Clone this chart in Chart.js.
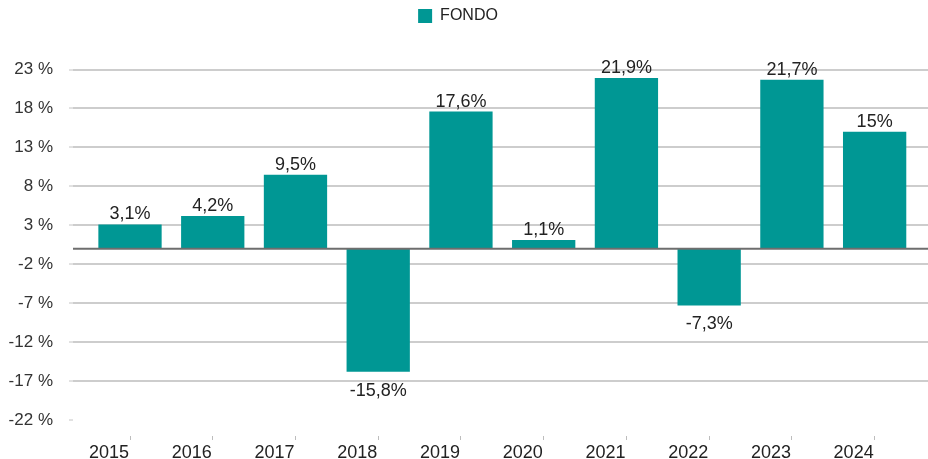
<!DOCTYPE html>
<html><head><meta charset="utf-8">
<script src="https://cdn.jsdelivr.net/npm/chart.js@4/dist/chart.umd.min.js"></script>
<style>html,body{margin:0;padding:0;background:#fff}#wrap{width:928px;height:459px;position:relative}</style>
</head><body><div id="wrap"><canvas id="c"></canvas></div>
<script>
const categories = ['2015','2016','2017','2018','2019','2020','2021','2022','2023','2024'];
const fondo = [3.1, 4.2, 9.5, -15.8, 17.6, 1.1, 21.9, -7.3, 21.7, 15];
const yTickValues = [-22, -17, -12, -7, -2, 3, 8, 13, 18, 23];
const seriesName = 'FONDO';

const FONT = "'Liberation Sans', Arial, sans-serif";
const TEAL = '#009794';
const GRID = '#cdcdcd';

const helperPlugin = {
  id: 'helper',
  beforeLayout(chart) {
    const lg = chart.legend;
    if (lg && !lg._patched) {
      const orig = lg.fit;
      lg.fit = function () {
        orig.call(this);
        this.height = 69.5;
        if (this.lineWidths) this.lineWidths[0] += 12;
      };
      lg._patched = true;
    }
  },
  afterDatasetsDraw(chart) {
    const ctx = chart.ctx;
    const ys = chart.scales.y;
    const area = chart.chartArea;
    const y0 = ys.getPixelForValue(0);
    ctx.save();
    ctx.strokeStyle = '#6e6e6e';
    ctx.lineWidth = 2;
    ctx.beginPath();
    ctx.moveTo(area.left, y0);
    ctx.lineTo(area.right, y0);
    ctx.stroke();
    const meta = chart.getDatasetMeta(0);
    ctx.font = '18px ' + FONT;
    ctx.fillStyle = '#222';
    ctx.textAlign = 'center';
    meta.data.forEach((el, i) => {
      const v = fondo[i];
      const txt = String(v).replace('.', ',') + '%';
      if (v >= 0) {
        ctx.textBaseline = 'bottom';
        ctx.fillText(txt, el.x, el.y - 1);
      } else {
        ctx.textBaseline = 'top';
        ctx.fillText(txt, el.x, el.y + 10);
      }
    });
    ctx.restore();
  }
};

new Chart(document.getElementById('c'), {
  type: 'bar',
  data: {
    datasets: [{
      label: seriesName,
      data: fondo.map((v, i) => ({ x: i, y: v })),
      backgroundColor: TEAL,
      borderWidth: 0,
      barPercentage: 0.765,
      categoryPercentage: 1
    }]
  },
  options: {
    responsive: true,
    maintainAspectRatio: false,
    animation: false,
    layout: { padding: 0 },
    plugins: {
      legend: {
        position: 'top',
        labels: {
          boxWidth: 14, boxHeight: 14, padding: 8,
          color: '#222',
          font: { family: FONT, size: 16 }
        }
      },
      tooltip: { enabled: false }
    },
    scales: {
      x: {
        type: 'linear',
        offset: false,
        min: -0.689,
        max: 9.645,
        afterBuildTicks: s => { s.ticks = categories.map((_, i) => ({ value: i })); },
        afterFit: s => { s.height = 39; },
        ticks: {
          autoSkip: false,
          maxRotation: 0,
          labelOffset: -21,
          padding: 2,
          color: '#222',
          font: { family: FONT, size: 18 },
          callback: (v, i) => categories[i]
        },
        grid: {
          offset: false,
          drawOnChartArea: false,
          drawTicks: true,
          tickLength: 20,
          tickColor: '#bdbdbd',
          tickWidth: 1,
          tickBorderDash: [0, 16, 4, 40]
        },
        border: { display: false }
      },
      y: {
        min: -22,
        max: 23,
        afterBuildTicks: s => { s.ticks = yTickValues.map(v => ({ value: v })); },
        afterFit: s => { s.width = 73; },
        ticks: {
          padding: 10,
          color: '#333',
          font: { family: FONT, size: 17 },
          callback: v => v + ' %'
        },
        grid: {
          color: c => (c.tick && c.tick.value === -22) ? 'rgba(0,0,0,0)' : GRID,
          lineWidth: 2,
          tickLength: 10,
          tickColor: '#c4c4c4',
          tickWidth: 1,
          tickBorderDash: [0, 6, 4, 40]
        },
        border: { display: false }
      }
    }
  },
  plugins: [helperPlugin]
});
</script>
</body></html>
